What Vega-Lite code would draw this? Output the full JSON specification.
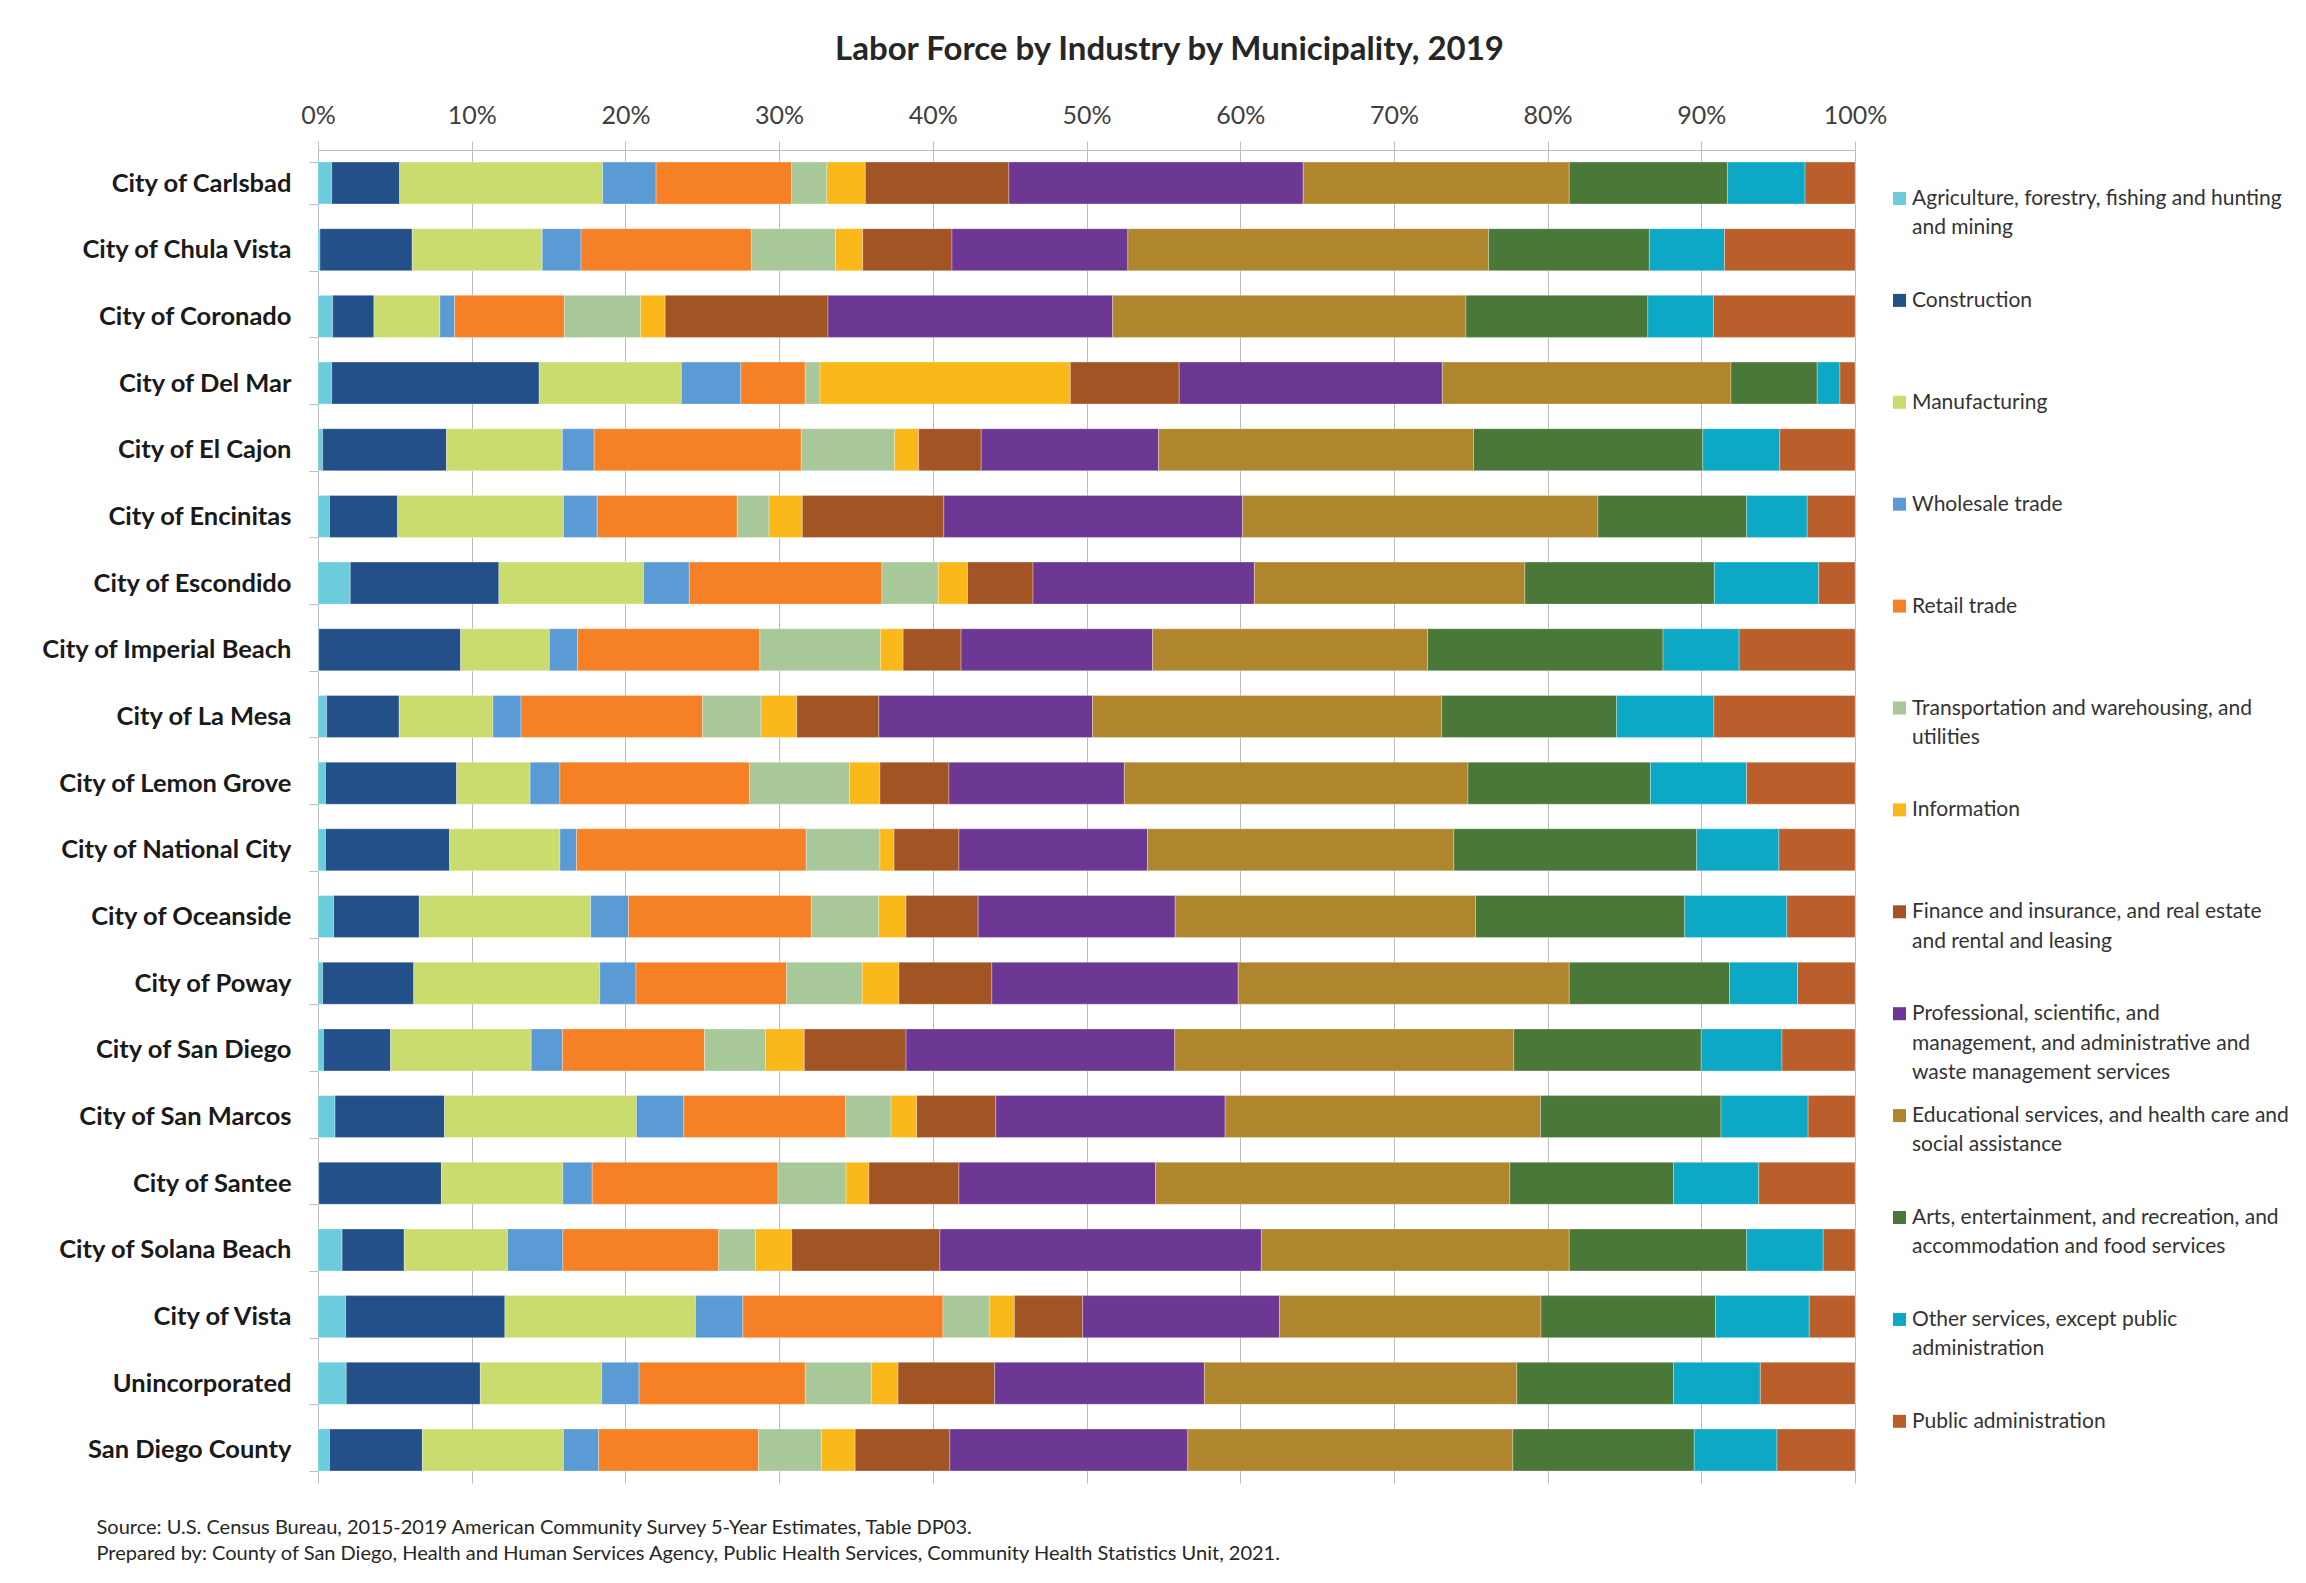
{
"$schema": "https://vega.github.io/schema/vega-lite/v6.json",
"width": 1537, "height": 1333,
"autosize": {"type": "none"},
"padding": {"left": 318, "top": 150, "right": 451, "bottom": 100},
"background": "white",
"title": {"text": "Labor Force by Industry by Municipality, 2019", "font": "Lato", "fontSize": 33, "fontWeight": "bold", "color": "#262626", "anchor": "middle", "dx": 83, "offset": 36},
"datasets": {"d": [
{"m":"City of Carlsbad","i":"Agriculture","v":0.89},{"m":"City of Carlsbad","i":"Construction","v":4.42},{"m":"City of Carlsbad","i":"Manufacturing","v":13.21},{"m":"City of Carlsbad","i":"Wholesale trade","v":3.48},{"m":"City of Carlsbad","i":"Retail trade","v":8.82},{"m":"City of Carlsbad","i":"Transportation","v":2.29},{"m":"City of Carlsbad","i":"Information","v":2.50},{"m":"City of Carlsbad","i":"Finance","v":9.34},{"m":"City of Carlsbad","i":"Professional","v":19.15},{"m":"City of Carlsbad","i":"Educational","v":17.31},{"m":"City of Carlsbad","i":"Arts","v":10.29},{"m":"City of Carlsbad","i":"Other services","v":5.05},{"m":"City of Carlsbad","i":"Public administration","v":3.25},
{"m":"City of Chula Vista","i":"Agriculture","v":0.13},{"m":"City of Chula Vista","i":"Construction","v":6.00},{"m":"City of Chula Vista","i":"Manufacturing","v":8.46},{"m":"City of Chula Vista","i":"Wholesale trade","v":2.52},{"m":"City of Chula Vista","i":"Retail trade","v":11.09},{"m":"City of Chula Vista","i":"Transportation","v":5.47},{"m":"City of Chula Vista","i":"Information","v":1.77},{"m":"City of Chula Vista","i":"Finance","v":5.81},{"m":"City of Chula Vista","i":"Professional","v":11.44},{"m":"City of Chula Vista","i":"Educational","v":23.47},{"m":"City of Chula Vista","i":"Arts","v":10.46},{"m":"City of Chula Vista","i":"Other services","v":4.89},{"m":"City of Chula Vista","i":"Public administration","v":8.49},
{"m":"City of Coronado","i":"Agriculture","v":0.95},{"m":"City of Coronado","i":"Construction","v":2.69},{"m":"City of Coronado","i":"Manufacturing","v":4.29},{"m":"City of Coronado","i":"Wholesale trade","v":0.96},{"m":"City of Coronado","i":"Retail trade","v":7.14},{"m":"City of Coronado","i":"Transportation","v":4.95},{"m":"City of Coronado","i":"Information","v":1.61},{"m":"City of Coronado","i":"Finance","v":10.59},{"m":"City of Coronado","i":"Professional","v":18.52},{"m":"City of Coronado","i":"Educational","v":22.99},{"m":"City of Coronado","i":"Arts","v":11.83},{"m":"City of Coronado","i":"Other services","v":4.27},{"m":"City of Coronado","i":"Public administration","v":9.21},
{"m":"City of Del Mar","i":"Agriculture","v":0.89},{"m":"City of Del Mar","i":"Construction","v":13.50},{"m":"City of Del Mar","i":"Manufacturing","v":9.25},{"m":"City of Del Mar","i":"Wholesale trade","v":3.87},{"m":"City of Del Mar","i":"Retail trade","v":4.19},{"m":"City of Del Mar","i":"Transportation","v":0.96},{"m":"City of Del Mar","i":"Information","v":16.29},{"m":"City of Del Mar","i":"Finance","v":7.08},{"m":"City of Del Mar","i":"Professional","v":17.12},{"m":"City of Del Mar","i":"Educational","v":18.78},{"m":"City of Del Mar","i":"Arts","v":5.61},{"m":"City of Del Mar","i":"Other services","v":1.48},{"m":"City of Del Mar","i":"Public administration","v":0.98},
{"m":"City of El Cajon","i":"Agriculture","v":0.30},{"m":"City of El Cajon","i":"Construction","v":8.06},{"m":"City of El Cajon","i":"Manufacturing","v":7.54},{"m":"City of El Cajon","i":"Wholesale trade","v":2.07},{"m":"City of El Cajon","i":"Retail trade","v":13.47},{"m":"City of El Cajon","i":"Transportation","v":6.07},{"m":"City of El Cajon","i":"Information","v":1.57},{"m":"City of El Cajon","i":"Finance","v":4.07},{"m":"City of El Cajon","i":"Professional","v":11.54},{"m":"City of El Cajon","i":"Educational","v":20.49},{"m":"City of El Cajon","i":"Arts","v":14.92},{"m":"City of El Cajon","i":"Other services","v":5.01},{"m":"City of El Cajon","i":"Public administration","v":4.89},
{"m":"City of Encinitas","i":"Agriculture","v":0.75},{"m":"City of Encinitas","i":"Construction","v":4.43},{"m":"City of Encinitas","i":"Manufacturing","v":10.79},{"m":"City of Encinitas","i":"Wholesale trade","v":2.19},{"m":"City of Encinitas","i":"Retail trade","v":9.12},{"m":"City of Encinitas","i":"Transportation","v":2.06},{"m":"City of Encinitas","i":"Information","v":2.17},{"m":"City of Encinitas","i":"Finance","v":9.21},{"m":"City of Encinitas","i":"Professional","v":19.44},{"m":"City of Encinitas","i":"Educational","v":23.12},{"m":"City of Encinitas","i":"Arts","v":9.67},{"m":"City of Encinitas","i":"Other services","v":3.94},{"m":"City of Encinitas","i":"Public administration","v":3.11},
{"m":"City of Escondido","i":"Agriculture","v":2.10},{"m":"City of Escondido","i":"Construction","v":9.67},{"m":"City of Escondido","i":"Manufacturing","v":9.41},{"m":"City of Escondido","i":"Wholesale trade","v":2.98},{"m":"City of Escondido","i":"Retail trade","v":12.53},{"m":"City of Escondido","i":"Transportation","v":3.67},{"m":"City of Escondido","i":"Information","v":1.90},{"m":"City of Escondido","i":"Finance","v":4.26},{"m":"City of Escondido","i":"Professional","v":14.40},{"m":"City of Escondido","i":"Educational","v":17.60},{"m":"City of Escondido","i":"Arts","v":12.33},{"m":"City of Escondido","i":"Other services","v":6.79},{"m":"City of Escondido","i":"Public administration","v":2.36},
{"m":"City of Imperial Beach","i":"Agriculture","v":0.05},{"m":"City of Imperial Beach","i":"Construction","v":9.23},{"m":"City of Imperial Beach","i":"Manufacturing","v":5.77},{"m":"City of Imperial Beach","i":"Wholesale trade","v":1.84},{"m":"City of Imperial Beach","i":"Retail trade","v":11.86},{"m":"City of Imperial Beach","i":"Transportation","v":7.84},{"m":"City of Imperial Beach","i":"Information","v":1.48},{"m":"City of Imperial Beach","i":"Finance","v":3.77},{"m":"City of Imperial Beach","i":"Professional","v":12.46},{"m":"City of Imperial Beach","i":"Educational","v":17.90},{"m":"City of Imperial Beach","i":"Arts","v":15.31},{"m":"City of Imperial Beach","i":"Other services","v":4.95},{"m":"City of Imperial Beach","i":"Public administration","v":7.54},
{"m":"City of La Mesa","i":"Agriculture","v":0.56},{"m":"City of La Mesa","i":"Construction","v":4.72},{"m":"City of La Mesa","i":"Manufacturing","v":6.10},{"m":"City of La Mesa","i":"Wholesale trade","v":1.83},{"m":"City of La Mesa","i":"Retail trade","v":11.81},{"m":"City of La Mesa","i":"Transportation","v":3.80},{"m":"City of La Mesa","i":"Information","v":2.33},{"m":"City of La Mesa","i":"Finance","v":5.34},{"m":"City of La Mesa","i":"Professional","v":13.90},{"m":"City of La Mesa","i":"Educational","v":22.72},{"m":"City of La Mesa","i":"Arts","v":11.38},{"m":"City of La Mesa","i":"Other services","v":6.33},{"m":"City of La Mesa","i":"Public administration","v":9.18},
{"m":"City of Lemon Grove","i":"Agriculture","v":0.49},{"m":"City of Lemon Grove","i":"Construction","v":8.53},{"m":"City of Lemon Grove","i":"Manufacturing","v":4.78},{"m":"City of Lemon Grove","i":"Wholesale trade","v":1.94},{"m":"City of Lemon Grove","i":"Retail trade","v":12.33},{"m":"City of Lemon Grove","i":"Transportation","v":6.52},{"m":"City of Lemon Grove","i":"Information","v":1.97},{"m":"City of Lemon Grove","i":"Finance","v":4.49},{"m":"City of Lemon Grove","i":"Professional","v":11.41},{"m":"City of Lemon Grove","i":"Educational","v":22.36},{"m":"City of Lemon Grove","i":"Arts","v":11.87},{"m":"City of Lemon Grove","i":"Other services","v":6.26},{"m":"City of Lemon Grove","i":"Public administration","v":7.05},
{"m":"City of National City","i":"Agriculture","v":0.49},{"m":"City of National City","i":"Construction","v":8.07},{"m":"City of National City","i":"Manufacturing","v":7.18},{"m":"City of National City","i":"Wholesale trade","v":1.08},{"m":"City of National City","i":"Retail trade","v":14.95},{"m":"City of National City","i":"Transportation","v":4.79},{"m":"City of National City","i":"Information","v":0.92},{"m":"City of National City","i":"Finance","v":4.22},{"m":"City of National City","i":"Professional","v":12.27},{"m":"City of National City","i":"Educational","v":19.93},{"m":"City of National City","i":"Arts","v":15.80},{"m":"City of National City","i":"Other services","v":5.35},{"m":"City of National City","i":"Public administration","v":4.95},
{"m":"City of Oceanside","i":"Agriculture","v":1.02},{"m":"City of Oceanside","i":"Construction","v":5.57},{"m":"City of Oceanside","i":"Manufacturing","v":11.15},{"m":"City of Oceanside","i":"Wholesale trade","v":2.46},{"m":"City of Oceanside","i":"Retail trade","v":11.90},{"m":"City of Oceanside","i":"Transportation","v":4.39},{"m":"City of Oceanside","i":"Information","v":1.77},{"m":"City of Oceanside","i":"Finance","v":4.69},{"m":"City of Oceanside","i":"Professional","v":12.82},{"m":"City of Oceanside","i":"Educational","v":19.54},{"m":"City of Oceanside","i":"Arts","v":13.61},{"m":"City of Oceanside","i":"Other services","v":6.65},{"m":"City of Oceanside","i":"Public administration","v":4.43},
{"m":"City of Poway","i":"Agriculture","v":0.30},{"m":"City of Poway","i":"Construction","v":5.93},{"m":"City of Poway","i":"Manufacturing","v":12.10},{"m":"City of Poway","i":"Wholesale trade","v":2.36},{"m":"City of Poway","i":"Retail trade","v":9.80},{"m":"City of Poway","i":"Transportation","v":4.92},{"m":"City of Poway","i":"Information","v":2.39},{"m":"City of Poway","i":"Finance","v":6.04},{"m":"City of Poway","i":"Professional","v":16.03},{"m":"City of Poway","i":"Educational","v":21.54},{"m":"City of Poway","i":"Arts","v":10.43},{"m":"City of Poway","i":"Other services","v":4.42},{"m":"City of Poway","i":"Public administration","v":3.74},
{"m":"City of San Diego","i":"Agriculture","v":0.36},{"m":"City of San Diego","i":"Construction","v":4.36},{"m":"City of San Diego","i":"Manufacturing","v":9.15},{"m":"City of San Diego","i":"Wholesale trade","v":2.03},{"m":"City of San Diego","i":"Retail trade","v":9.25},{"m":"City of San Diego","i":"Transportation","v":3.96},{"m":"City of San Diego","i":"Information","v":2.53},{"m":"City of San Diego","i":"Finance","v":6.62},{"m":"City of San Diego","i":"Professional","v":17.48},{"m":"City of San Diego","i":"Educational","v":22.06},{"m":"City of San Diego","i":"Arts","v":12.20},{"m":"City of San Diego","i":"Other services","v":5.25},{"m":"City of San Diego","i":"Public administration","v":4.75},
{"m":"City of San Marcos","i":"Agriculture","v":1.11},{"m":"City of San Marcos","i":"Construction","v":7.12},{"m":"City of San Marcos","i":"Manufacturing","v":12.49},{"m":"City of San Marcos","i":"Wholesale trade","v":3.08},{"m":"City of San Marcos","i":"Retail trade","v":10.53},{"m":"City of San Marcos","i":"Transportation","v":2.95},{"m":"City of San Marcos","i":"Information","v":1.67},{"m":"City of San Marcos","i":"Finance","v":5.15},{"m":"City of San Marcos","i":"Professional","v":14.92},{"m":"City of San Marcos","i":"Educational","v":20.52},{"m":"City of San Marcos","i":"Arts","v":11.74},{"m":"City of San Marcos","i":"Other services","v":5.67},{"m":"City of San Marcos","i":"Public administration","v":3.05},
{"m":"City of Santee","i":"Agriculture","v":0.05},{"m":"City of Santee","i":"Construction","v":7.98},{"m":"City of Santee","i":"Manufacturing","v":7.90},{"m":"City of Santee","i":"Wholesale trade","v":1.91},{"m":"City of Santee","i":"Retail trade","v":12.09},{"m":"City of Santee","i":"Transportation","v":4.43},{"m":"City of Santee","i":"Information","v":1.48},{"m":"City of Santee","i":"Finance","v":5.86},{"m":"City of Santee","i":"Professional","v":12.79},{"m":"City of Santee","i":"Educational","v":23.05},{"m":"City of Santee","i":"Arts","v":10.66},{"m":"City of Santee","i":"Other services","v":5.54},{"m":"City of Santee","i":"Public administration","v":6.26},
{"m":"City of Solana Beach","i":"Agriculture","v":1.57},{"m":"City of Solana Beach","i":"Construction","v":4.04},{"m":"City of Solana Beach","i":"Manufacturing","v":6.72},{"m":"City of Solana Beach","i":"Wholesale trade","v":3.60},{"m":"City of Solana Beach","i":"Retail trade","v":10.14},{"m":"City of Solana Beach","i":"Transportation","v":2.39},{"m":"City of Solana Beach","i":"Information","v":2.36},{"m":"City of Solana Beach","i":"Finance","v":9.64},{"m":"City of Solana Beach","i":"Professional","v":20.92},{"m":"City of Solana Beach","i":"Educational","v":20.03},{"m":"City of Solana Beach","i":"Arts","v":11.54},{"m":"City of Solana Beach","i":"Other services","v":4.98},{"m":"City of Solana Beach","i":"Public administration","v":2.07},
{"m":"City of Vista","i":"Agriculture","v":1.80},{"m":"City of Vista","i":"Construction","v":10.36},{"m":"City of Vista","i":"Manufacturing","v":12.40},{"m":"City of Vista","i":"Wholesale trade","v":3.08},{"m":"City of Vista","i":"Retail trade","v":13.02},{"m":"City of Vista","i":"Transportation","v":3.01},{"m":"City of Vista","i":"Information","v":1.64},{"m":"City of Vista","i":"Finance","v":4.44},{"m":"City of Vista","i":"Professional","v":12.81},{"m":"City of Vista","i":"Educational","v":17.01},{"m":"City of Vista","i":"Arts","v":11.35},{"m":"City of Vista","i":"Other services","v":6.10},{"m":"City of Vista","i":"Public administration","v":2.98},
{"m":"Unincorporated","i":"Agriculture","v":1.84},{"m":"Unincorporated","i":"Construction","v":8.72},{"m":"Unincorporated","i":"Manufacturing","v":7.90},{"m":"Unincorporated","i":"Wholesale trade","v":2.43},{"m":"Unincorporated","i":"Retail trade","v":10.81},{"m":"Unincorporated","i":"Transportation","v":4.30},{"m":"Unincorporated","i":"Information","v":1.74},{"m":"Unincorporated","i":"Finance","v":6.29},{"m":"Unincorporated","i":"Professional","v":13.64},{"m":"Unincorporated","i":"Educational","v":20.33},{"m":"Unincorporated","i":"Arts","v":10.20},{"m":"Unincorporated","i":"Other services","v":5.64},{"m":"Unincorporated","i":"Public administration","v":6.16},
{"m":"San Diego County","i":"Agriculture","v":0.75},{"m":"San Diego County","i":"Construction","v":6.04},{"m":"San Diego County","i":"Manufacturing","v":9.18},{"m":"San Diego County","i":"Wholesale trade","v":2.29},{"m":"San Diego County","i":"Retail trade","v":10.40},{"m":"San Diego County","i":"Transportation","v":4.09},{"m":"San Diego County","i":"Information","v":2.20},{"m":"San Diego County","i":"Finance","v":6.16},{"m":"San Diego County","i":"Professional","v":15.48},{"m":"San Diego County","i":"Educational","v":21.15},{"m":"San Diego County","i":"Arts","v":11.80},{"m":"San Diego County","i":"Other services","v":5.38},{"m":"San Diego County","i":"Public administration","v":5.08}
]},
"data": {"name": "d"},
"transform": [
 {"calculate": "indexof(['Agriculture', 'Construction', 'Manufacturing', 'Wholesale trade', 'Retail trade', 'Transportation', 'Information', 'Finance', 'Professional', 'Educational', 'Arts', 'Other services', 'Public administration'], datum.i)", "as": "o"}
],
"mark": {"type": "bar", "stroke": "#ffffff", "strokeWidth": 0.6, "strokeOpacity": 0.5},
"encoding": {
"y": {"field": "m", "type": "nominal", "sort": null,
 "scale": {"paddingInner": 0.37, "paddingOuter": 0.18},
 "axis": {"title": ["Source: U.S. Census Bureau, 2015-2019 American Community Survey 5-Year Estimates, Table DP03.", "Prepared by: County of San Diego, Health and Human Services Agency, Public Health Services, Community Health Statistics Unit, 2021."],
  "titleAngle": 0, "titleAlign": "left", "titleBaseline": "top", "titleX": -222, "titleY": 1367, "titleFont": "Lato", "titleFontSize": 20, "titleFontWeight": "normal", "titleColor": "#262626", "titleLineHeight": 26,
  "labelFont": "Lato", "labelFontSize": 25.5, "labelFontWeight": "bold", "labelColor": "#1a1a1a", "labelPadding": 18, "labelLimit": 400,
  "tickBand": "extent", "tickSize": 9, "tickColor": "#bfbfbf", "domainColor": "#bfbfbf", "grid": false}},
"x": {"field": "v", "type": "quantitative", "stack": "normalize",
 "scale": {"domain": [0, 1], "nice": false},
 "axis": {"orient": "top", "values": [0, 0.1, 0.2, 0.3, 0.4, 0.5, 0.6, 0.7, 0.8, 0.9, 1], "format": ".0%", "title": null,
  "labelFont": "Lato", "labelFontSize": 25, "labelColor": "#404040", "labelPadding": 13, "labelFlush": false,
  "tickSize": 9, "tickColor": "#bfbfbf", "domainColor": "#bfbfbf", "grid": true, "gridColor": "#bdbdbd", "gridWidth": 1}},
"order": {"field": "o", "type": "quantitative"},
"color": {"field": "i", "type": "nominal",
 "sort": ["Agriculture", "Construction", "Manufacturing", "Wholesale trade", "Retail trade", "Transportation", "Information", "Finance", "Professional", "Educational", "Arts", "Other services", "Public administration"],
 "scale": {"domain": ["Agriculture", "Construction", "Manufacturing", "Wholesale trade", "Retail trade", "Transportation", "Information", "Finance", "Professional", "Educational", "Arts", "Other services", "Public administration"],
  "range": ["#6BCDDB", "#24508A", "#CADC6E", "#5B9BD5", "#F58025", "#A8C899", "#FAB81A", "#A25425", "#6D3893", "#AF862E", "#4A7838", "#0DA8C6", "#BA5F2B"]},
 "legend": {"orient": "none", "legendX": 1571, "legendY": 44.5, "title": null, "padding": 0,
  "symbolType": "M-1,-2H1V0H-1Z", "symbolSize": 169, "symbolStrokeWidth": 0,
  "labelFont": "Lato", "labelFontSize": 21, "labelColor": "#333333", "labelBaseline": "alphabetic", "labelOffset": 2, "labelLimit": 700, "rowPadding": 20.9,
  "labelExpr": "datum.label == 'Agriculture' ? ['Agriculture, forestry, fishing and hunting', 'and mining', ' '] : datum.label == 'Transportation' ? ['Transportation and warehousing, and', 'utilities', ' '] : datum.label == 'Finance' ? ['Finance and insurance, and real estate', 'and rental and leasing', ' '] : datum.label == 'Professional' ? ['Professional, scientific, and', 'management, and administrative and', 'waste management services'] : datum.label == 'Educational' ? ['Educational services, and health care and', 'social assistance', ' '] : datum.label == 'Arts' ? ['Arts, entertainment, and recreation, and', 'accommodation and food services', ' '] : datum.label == 'Other services' ? ['Other services, except public', 'administration', ' '] : [datum.label, ' ', ' ']"}}
},
"config": {"view": {"stroke": null}, "style": {"guide-label": {"lineHeight": 29.4}}}
}
